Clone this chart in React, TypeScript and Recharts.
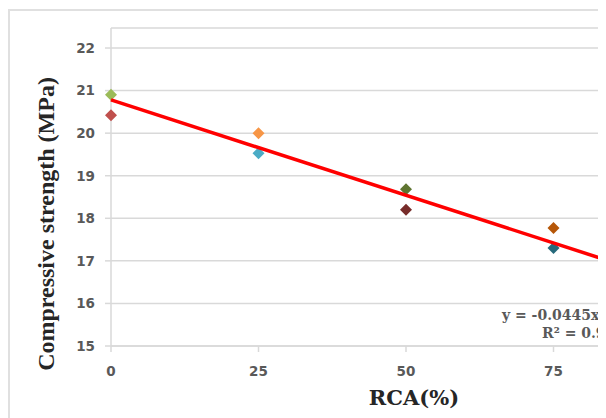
import React from 'react';
import { ScatterChart, Scatter, XAxis, YAxis, CartesianGrid, Customized } from 'recharts';

// RCA replacement level (%) and measured compressive strength (MPa)
const rca = [0, 0, 25, 25, 50, 50, 75, 75];
const strength = [20.9, 20.42, 20.0, 19.53, 18.68, 18.2, 17.77, 17.3];
const pointColors = ['#9BBB59', '#C0504D', '#F79646', '#4BACC6', '#5F7530', '#772C2A', '#B65708', '#276A7C'];

// linear trendline
const trendline = [
    { x: 0, y: 20.78 },
    { x: 100, y: 16.3 },
];

const xTicks = [0, 25, 50, 75, 100];
const yTicks = [15, 16, 17, 18, 19, 20, 21, 22];

const equation = 'y = -0.0445x + 20.78';
const rSquared = 'R² = 0.9';

const axisGray = '#d9d9d9';
const tickStyle = { fill: '#595959', fontFamily: 'DejaVu Sans', fontWeight: 700, fontSize: 13.5 };

const Diamond = (props: any) => {
    const { cx, cy, fill } = props;
    const r = 6;
    return <polygon points={`${cx},${cy - r} ${cx + r},${cy} ${cx},${cy + r} ${cx - r},${cy}`} fill={fill} />;
};

const NoPoint = () => <g />;

const YTitle = () => (
    <text
        x={38}
        y={216}
        transform="rotate(-90 38 216)"
        textAnchor="middle"
        dominantBaseline="central"
        fontFamily="Liberation Serif"
        fontWeight={700}
        fontSize={24}
        fill="#262626"
    >
        Compressive strength (MPa)
    </text>
);

const XTitle = () => (
    <text x={406} y={397} textAnchor="middle" fontFamily="DejaVu Serif" fontWeight={700} fontSize={21} fill="#262626">
        RCA(%)
    </text>
);

const Equation = () => (
    <g fontFamily="DejaVu Serif" fontWeight={700} fontSize={14} fill="#595959">
        <text x={494} y={312}>{equation}</text>
        <text x={534} y={330}>{rSquared}</text>
    </g>
);

const App: React.FC = () => {
    const points = rca.map((x, i) => ({ x, y: strength[i], color: pointColors[i] }));
    return (
        <div style={{ position: 'relative', width: 598, height: 410, overflow: 'hidden', background: '#fff' }}>
            <div
                style={{
                    position: 'absolute',
                    left: 0,
                    top: 1,
                    width: 700,
                    height: 420,
                    borderLeft: '2px solid #e0e0e0',
                    borderTop: '2px solid #e0e0e0',
                }}
            />
            <div style={{ position: 'absolute', left: 0, top: 0 }}>
                <ScatterChart width={720} height={410} margin={{ top: 20, right: 27, bottom: 32, left: 0 }}>
                    <CartesianGrid vertical={false} stroke={axisGray} strokeWidth={1.5} />
                    <XAxis
                        type="number"
                        dataKey="x"
                        domain={[0, 100]}
                        ticks={xTicks}
                        height={40}
                        tick={tickStyle}
                        tickSize={6}
                        tickMargin={14}
                        stroke={axisGray}
                        strokeWidth={1.5}
                    />
                    <YAxis
                        type="number"
                        dataKey="y"
                        domain={[15, 22.47]}
                        ticks={yTicks}
                        allowDataOverflow
                        width={103}
                        tick={tickStyle}
                        tickSize={6}
                        tickMargin={10}
                        stroke={axisGray}
                        strokeWidth={1.5}
                    />
                    {points.map((p, i) => (
                        <Scatter key={i} data={[p]} fill={p.color} shape={Diamond} isAnimationActive={false} />
                    ))}
                    <Scatter
                        data={trendline}
                        line={{ stroke: '#ff0000', strokeWidth: 3.5 }}
                        shape={NoPoint}
                        isAnimationActive={false}
                    />
                    <Customized component={YTitle} />
                    <Customized component={XTitle} />
                    <Customized component={Equation} />
                </ScatterChart>
            </div>
        </div>
    );
};

export default App;
